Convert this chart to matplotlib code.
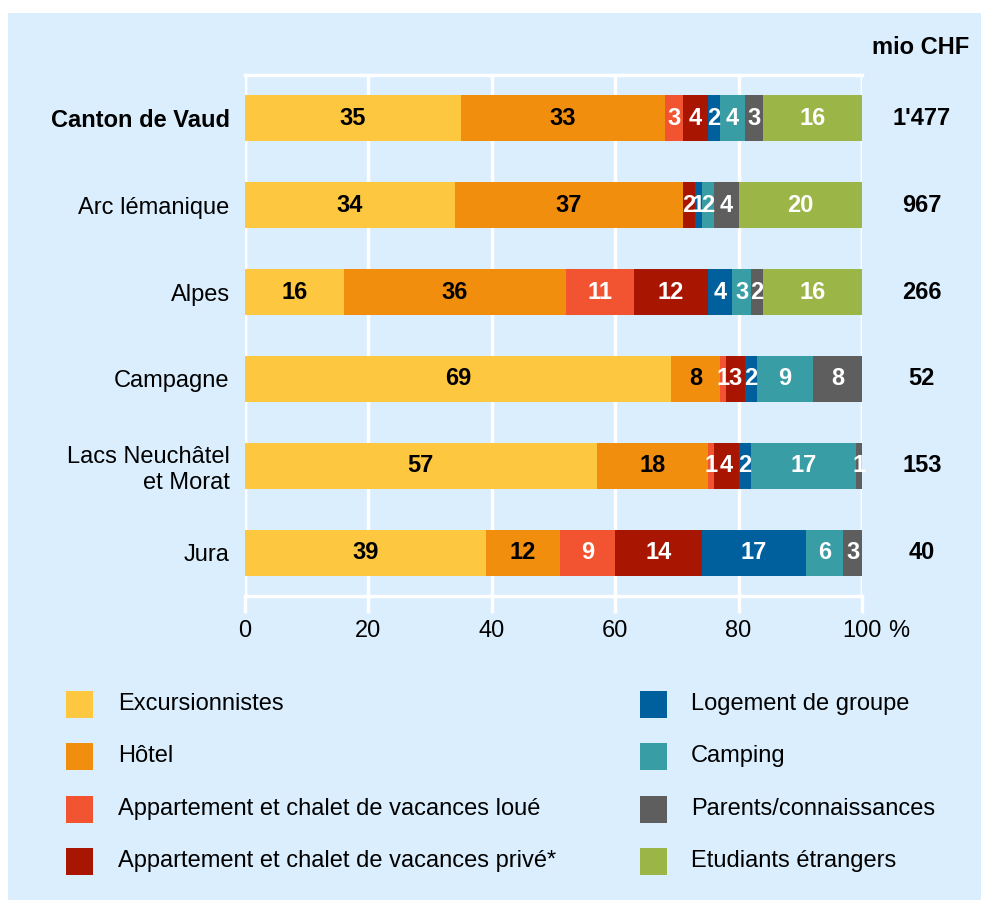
import matplotlib
matplotlib.use("Agg")
import matplotlib.pyplot as plt
from matplotlib.patches import Rectangle
import numpy as np

plt.rcParams['font.family'] = ['Liberation Sans', 'DejaVu Sans']

regions = ["Canton de Vaud", "Arc lémanique", "Alpes", "Campagne",
           "Lacs Neuchâtel\net Morat", "Jura"]
series = ["Excursionnistes", "Hôtel", "Appartement et chalet de vacances loué",
          "Appartement et chalet de vacances privé*", "Logement de groupe",
          "Camping", "Parents/connaissances", "Etudiants étrangers"]
excursionnistes = [35, 34, 16, 69, 57, 39]
hotel = [33, 37, 36, 8, 18, 12]
app_loue = [3, 0, 11, 1, 1, 9]
app_prive = [4, 2, 12, 3, 4, 14]
logement_groupe = [2, 1, 4, 2, 2, 17]
camping = [4, 2, 3, 9, 17, 6]
parents = [3, 4, 2, 8, 1, 3]
etudiants = [16, 20, 16, 0, 0, 0]
totals = ["1'477", "967", "266", "52", "153", "40"]
xticks = [0, 20, 40, 60, 80, 100]

values = [excursionnistes, hotel, app_loue, app_prive, logement_groupe,
          camping, parents, etudiants]
colors = ["#FDC73F", "#F28E0E", "#F25431", "#A81500", "#005F9D",
          "#389DA4", "#5E5E5E", "#9BB546"]
text_colors = ["black", "black", "white", "white", "white", "white", "white", "white"]
bg = "#DAEEFD"
FS = 17

fig = plt.figure(figsize=(9.81, 9.0), dpi=100)
fig.patch.set_facecolor("white")
W, H = 981, 900
fig.add_artist(Rectangle((8 / W, 0), 1 - 8 / W, (H - 13) / H, transform=fig.transFigure,
                         facecolor=bg, edgecolor="none", zorder=0))

ax = fig.add_axes([245 / W, 1 - 596 / H, 617 / W, 521 / H])
ax.set_facecolor(bg)
y = np.arange(len(regions))
left = np.zeros(len(regions))
for vals, c, tc in zip(values, colors, text_colors):
    vals = np.array(vals, dtype=float)
    ax.barh(y, vals, left=left, height=0.53, color=c, edgecolor="none", zorder=3)
    for i, v in enumerate(vals):
        if v > 0:
            ax.text(left[i] + v / 2, y[i], f"{int(v)}", ha="center", va="center",
                    color=tc, fontsize=FS, fontweight="bold", zorder=4)
    left += vals

ax.set_xlim(0, 100)
ax.set_ylim(len(regions) - 0.5, -0.5)
ax.set_xticks(xticks)
ax.set_xticklabels([str(t) for t in xticks], fontsize=FS)
ax.xaxis.grid(True, color="white", linewidth=2.5, zorder=1)
ax.set_axisbelow(True)
ax.tick_params(axis="x", colors="white", width=2.5, length=12, pad=5, labelcolor="black")
ax.set_yticks(y)
ax.set_yticklabels(regions, fontsize=FS, ha="right", multialignment="right")
ax.tick_params(axis="y", length=0, pad=11)
ax.get_yticklabels()[0].set_fontweight("bold")
for s in ax.spines.values():
    s.set_color("white")
    s.set_linewidth(2.5)
ax.spines["right"].set_visible(False)
ax.spines["left"].set_visible(False)
ax.axvline(0, color="white", linewidth=2.5, zorder=1)
ax.axvline(100, color="white", linewidth=2.5, zorder=1)

fig.text(899 / W, 1 - 631 / H, "%", fontsize=FS, ha="center", va="center")
# totals
fig.text(921 / W, 1 - 48 / H, "mio CHF", ha="center", va="center", fontsize=FS, fontweight="bold")
for i, t in enumerate(totals):
    ax.text(1.097, y[i], t, transform=ax.get_yaxis_transform(), ha="center", va="center",
            fontsize=FS, fontweight="bold", clip_on=False)

# legend
row_y = [704, 756, 809, 861]
for k, (name, c) in enumerate(zip(series, colors)):
    col = k // 4
    r = k % 4
    px = 66 if col == 0 else 640
    tx = 118 if col == 0 else 691
    cy = row_y[r]
    fig.add_artist(Rectangle((px / W, 1 - (cy + 13.5) / H), 27 / W, 27 / H,
                             transform=fig.transFigure, facecolor=c, edgecolor="none"))
    fig.text(tx / W, 1 - cy / H, name, ha="left", va="center", fontsize=FS)

fig.savefig("out.png", dpi=100, facecolor=fig.get_facecolor())
